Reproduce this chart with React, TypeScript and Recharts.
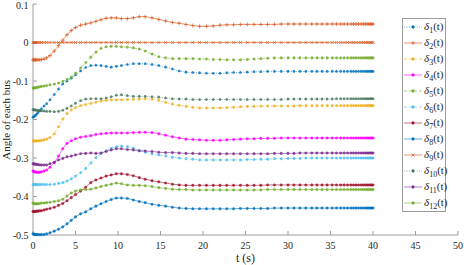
import React from "react"
import { LineChart, Line, XAxis, YAxis, Legend } from "recharts"

// sample times (s)
const time = [
  0, 0.1, 0.2, 0.3, 0.45, 0.6, 0.8, 1.0, 1.3, 1.6, 2.0, 2.5, 3.0, 3.5, 4.0,
  4.5, 5.0, 5.6, 6.2, 6.8, 7.4, 8.0, 8.6, 9.2, 9.8, 10.4, 11.1, 11.8, 12.5, 13.2,
  14.0, 14.8, 15.6, 16.4, 17.2, 18.0, 18.8, 19.6, 20.4, 21.2, 22.0, 22.8, 23.6, 24.4, 25.2,
  26.0, 26.8, 27.6, 28.4, 29.2, 30.0, 30.7, 31.4, 32.1, 32.8, 33.4, 34.0, 34.6, 35.2, 35.7,
  36.2, 36.6, 37.0, 37.4, 37.7, 38.0, 38.3, 38.6, 38.85, 39.1, 39.3, 39.5, 39.7, 39.85, 40.0,
]

const delta1 = [
  -0.194, -0.193, -0.191, -0.189, -0.186, -0.182, -0.177, -0.172, -0.165, -0.159, -0.149, -0.135, -0.121, -0.108, -0.1,
  -0.093, -0.084, -0.074, -0.065, -0.06, -0.059, -0.06, -0.062, -0.064, -0.062, -0.06, -0.057, -0.055, -0.055, -0.055,
  -0.057, -0.06, -0.064, -0.069, -0.074, -0.077, -0.078, -0.079, -0.08, -0.08, -0.08, -0.079, -0.078, -0.078, -0.077,
  -0.076, -0.076, -0.075, -0.075, -0.075, -0.075, -0.075, -0.075, -0.075, -0.075, -0.075, -0.075, -0.075, -0.075, -0.075,
  -0.075, -0.075, -0.075, -0.075, -0.075, -0.075, -0.075, -0.075, -0.075, -0.075, -0.075, -0.075, -0.075, -0.075, -0.075,
]
const delta2 = [
  -0.045, -0.045, -0.045, -0.045, -0.045, -0.045, -0.045, -0.044, -0.043, -0.04, -0.034, -0.022, -0.008, 0.006, 0.02,
  0.031, 0.039, 0.045, 0.048, 0.051, 0.055, 0.059, 0.063, 0.064, 0.064, 0.062, 0.062, 0.064, 0.067, 0.067,
  0.064, 0.06, 0.056, 0.052, 0.05, 0.047, 0.044, 0.042, 0.042, 0.043, 0.045, 0.046, 0.046, 0.047, 0.047,
  0.047, 0.047, 0.047, 0.047, 0.048, 0.048, 0.048, 0.048, 0.048, 0.048, 0.048, 0.048, 0.048, 0.048, 0.048,
  0.048, 0.048, 0.048, 0.048, 0.048, 0.048, 0.048, 0.048, 0.048, 0.048, 0.048, 0.048, 0.048, 0.048, 0.048,
]
const delta3 = [
  -0.256, -0.256, -0.256, -0.256, -0.256, -0.255, -0.255, -0.254, -0.253, -0.251, -0.247, -0.237, -0.219, -0.199, -0.184,
  -0.175, -0.169, -0.164, -0.161, -0.158, -0.155, -0.152, -0.15, -0.149, -0.149, -0.149, -0.148, -0.148, -0.147, -0.146,
  -0.147, -0.15, -0.156, -0.16, -0.163, -0.166, -0.168, -0.17, -0.17, -0.17, -0.17, -0.169, -0.168, -0.167, -0.166,
  -0.166, -0.165, -0.165, -0.165, -0.165, -0.165, -0.165, -0.164, -0.164, -0.164, -0.164, -0.164, -0.164, -0.164, -0.164,
  -0.164, -0.164, -0.164, -0.164, -0.164, -0.164, -0.164, -0.164, -0.164, -0.164, -0.164, -0.164, -0.164, -0.164, -0.164,
]
const delta4 = [
  -0.334, -0.335, -0.336, -0.337, -0.337, -0.337, -0.337, -0.336, -0.334, -0.331, -0.324, -0.312, -0.295, -0.276, -0.262,
  -0.255, -0.25, -0.246, -0.244, -0.242, -0.239, -0.237, -0.236, -0.235, -0.235, -0.235, -0.235, -0.234, -0.233, -0.233,
  -0.234, -0.237, -0.241, -0.245, -0.248, -0.251, -0.252, -0.253, -0.254, -0.254, -0.254, -0.253, -0.252, -0.251, -0.25,
  -0.25, -0.249, -0.249, -0.249, -0.248, -0.248, -0.248, -0.248, -0.248, -0.248, -0.248, -0.248, -0.248, -0.248, -0.248,
  -0.248, -0.248, -0.248, -0.248, -0.248, -0.248, -0.248, -0.248, -0.248, -0.248, -0.248, -0.248, -0.248, -0.248, -0.248,
]
const delta5 = [
  -0.118, -0.118, -0.118, -0.117, -0.117, -0.116, -0.115, -0.114, -0.113, -0.112, -0.11, -0.108, -0.105, -0.101, -0.096,
  -0.09, -0.08, -0.066, -0.052, -0.038, -0.025, -0.015, -0.011, -0.01, -0.01, -0.011, -0.012, -0.014, -0.017, -0.022,
  -0.03, -0.037, -0.04, -0.042, -0.042, -0.042, -0.042, -0.043, -0.043, -0.044, -0.044, -0.045, -0.045, -0.045, -0.044,
  -0.043, -0.042, -0.041, -0.04, -0.04, -0.04, -0.04, -0.04, -0.04, -0.04, -0.04, -0.04, -0.04, -0.04, -0.04,
  -0.04, -0.04, -0.04, -0.04, -0.04, -0.04, -0.04, -0.04, -0.04, -0.04, -0.04, -0.04, -0.04, -0.04, -0.04,
]
const delta6 = [
  -0.369, -0.369, -0.369, -0.369, -0.369, -0.369, -0.369, -0.369, -0.369, -0.369, -0.369, -0.368, -0.366, -0.364, -0.36,
  -0.354, -0.347, -0.338, -0.327, -0.313, -0.299, -0.288, -0.281, -0.275, -0.271, -0.269, -0.27, -0.275, -0.281, -0.285,
  -0.289, -0.292, -0.295, -0.298, -0.3, -0.302, -0.303, -0.305, -0.305, -0.305, -0.305, -0.305, -0.305, -0.305, -0.304,
  -0.304, -0.303, -0.303, -0.302, -0.302, -0.301, -0.301, -0.301, -0.3, -0.3, -0.3, -0.3, -0.3, -0.3, -0.3,
  -0.3, -0.3, -0.3, -0.3, -0.3, -0.3, -0.3, -0.3, -0.3, -0.3, -0.3, -0.3, -0.3, -0.3, -0.3,
]
const delta7 = [
  -0.439, -0.439, -0.439, -0.439, -0.438, -0.438, -0.437, -0.437, -0.435, -0.433, -0.431, -0.428, -0.423, -0.418, -0.411,
  -0.403, -0.395, -0.386, -0.376, -0.364, -0.357, -0.352, -0.347, -0.344, -0.341, -0.341, -0.343, -0.346, -0.351, -0.355,
  -0.359, -0.362, -0.365, -0.368, -0.37, -0.371, -0.371, -0.371, -0.371, -0.371, -0.371, -0.371, -0.371, -0.371, -0.371,
  -0.371, -0.371, -0.37, -0.37, -0.37, -0.37, -0.37, -0.37, -0.37, -0.37, -0.37, -0.37, -0.37, -0.37, -0.37,
  -0.37, -0.37, -0.37, -0.37, -0.37, -0.37, -0.37, -0.37, -0.37, -0.37, -0.37, -0.37, -0.37, -0.37, -0.37,
]
const delta8 = [
  -0.497, -0.498, -0.498, -0.499, -0.499, -0.499, -0.499, -0.499, -0.499, -0.497, -0.494, -0.49, -0.485, -0.479, -0.471,
  -0.462, -0.453, -0.445, -0.44, -0.432, -0.425, -0.419, -0.413, -0.408, -0.404, -0.404, -0.405, -0.409, -0.413, -0.416,
  -0.42, -0.423, -0.425, -0.428, -0.43, -0.431, -0.432, -0.432, -0.432, -0.432, -0.432, -0.432, -0.432, -0.431, -0.431,
  -0.431, -0.431, -0.431, -0.43, -0.43, -0.43, -0.43, -0.43, -0.43, -0.43, -0.43, -0.43, -0.43, -0.43, -0.43,
  -0.43, -0.43, -0.43, -0.43, -0.43, -0.43, -0.43, -0.43, -0.43, -0.43, -0.43, -0.43, -0.43, -0.43, -0.43,
]
const delta9 = [
  0, 0, 0, 0, 0, 0, 0, 0, 0, 0, 0, 0, 0, 0, 0,
  0, 0, 0, 0, 0, 0, 0, 0, 0, 0, 0, 0, 0, 0, 0,
  0, 0, 0, 0, 0, 0, 0, 0, 0, 0, 0, 0, 0, 0, 0,
  0, 0, 0, 0, 0, 0, 0, 0, 0, 0, 0, 0, 0, 0, 0,
  0, 0, 0, 0, 0, 0, 0, 0, 0, 0, 0, 0, 0, 0, 0,
]
const delta10 = [
  -0.174, -0.175, -0.175, -0.176, -0.176, -0.177, -0.177, -0.178, -0.178, -0.179, -0.179, -0.18, -0.179, -0.176, -0.171,
  -0.165, -0.158, -0.151, -0.147, -0.146, -0.146, -0.146, -0.144, -0.141, -0.137, -0.136, -0.138, -0.14, -0.14, -0.14,
  -0.141, -0.142, -0.144, -0.146, -0.147, -0.147, -0.148, -0.148, -0.148, -0.148, -0.148, -0.148, -0.148, -0.148, -0.148,
  -0.148, -0.148, -0.148, -0.148, -0.148, -0.147, -0.147, -0.147, -0.147, -0.147, -0.147, -0.147, -0.147, -0.147, -0.146,
  -0.146, -0.146, -0.146, -0.146, -0.146, -0.146, -0.146, -0.146, -0.146, -0.146, -0.146, -0.146, -0.146, -0.146, -0.146,
]
const delta11 = [
  -0.315, -0.315, -0.316, -0.316, -0.317, -0.317, -0.318, -0.318, -0.318, -0.318, -0.315, -0.311, -0.305, -0.301, -0.297,
  -0.295, -0.292, -0.289, -0.288, -0.287, -0.288, -0.287, -0.283, -0.279, -0.276, -0.276, -0.278, -0.279, -0.281, -0.282,
  -0.283, -0.285, -0.286, -0.286, -0.287, -0.288, -0.288, -0.289, -0.289, -0.289, -0.289, -0.289, -0.289, -0.289, -0.289,
  -0.289, -0.289, -0.289, -0.288, -0.288, -0.288, -0.288, -0.287, -0.287, -0.287, -0.287, -0.287, -0.287, -0.287, -0.287,
  -0.287, -0.287, -0.287, -0.287, -0.287, -0.287, -0.287, -0.287, -0.287, -0.287, -0.287, -0.287, -0.287, -0.287, -0.287,
]
const delta12 = [
  -0.417, -0.418, -0.419, -0.419, -0.419, -0.419, -0.418, -0.417, -0.417, -0.416, -0.415, -0.413, -0.411, -0.407, -0.399,
  -0.391, -0.386, -0.383, -0.382, -0.381, -0.378, -0.374, -0.371, -0.368, -0.365, -0.367, -0.37, -0.371, -0.371, -0.372,
  -0.374, -0.377, -0.379, -0.381, -0.382, -0.382, -0.383, -0.383, -0.383, -0.383, -0.383, -0.383, -0.383, -0.383, -0.383,
  -0.383, -0.383, -0.382, -0.382, -0.382, -0.382, -0.382, -0.382, -0.382, -0.382, -0.382, -0.382, -0.382, -0.382, -0.382,
  -0.382, -0.382, -0.382, -0.382, -0.382, -0.382, -0.382, -0.382, -0.382, -0.382, -0.382, -0.382, -0.382, -0.382, -0.382,
]

const xTicks = [0, 5, 10, 15, 20, 25, 30, 35, 40, 45, 50]
const yTicks = [-0.5, -0.4, -0.3, -0.2, -0.1, 0, 0.1]

const busNumbers = ["1", "2", "3", "4", "5", "6", "7", "8", "9", "10", "11", "12"]
const colors = [
  "#0072BD", "#D95319", "#EDB120", "#FF00FF", "#77AC30", "#4DBEEE",
  "#A2142F", "#0072BD", "#D95319", "#46775A", "#7E2F8E", "#77AC30",
]
const dashes = ["1 1.5", undefined, "3 2", undefined, "3 2", "3 2", undefined, undefined, undefined, "1 1.5", undefined, undefined]
const markers = ["dot", "plus", "dot", "dot", "dot", "dot", "dot", "dot", "cross", "dot", "dot", "dot"]

const series = [delta1, delta2, delta3, delta4, delta5, delta6, delta7, delta8, delta9, delta10, delta11, delta12]

const rows = time.map((t, i) => {
  const row: any = { t }
  series.forEach((s, k) => {
    row[`d${k + 1}`] = s[i]
  })
  return row
})

const axisGrey = "#9c9c9c"
const textColor = "#262626"
const serif = "Liberation Serif"

const Marker = ({ kind, cx, cy, color }: { kind: string; cx: number; cy: number; color: string }) => {
  if (kind === "plus")
    return <path d={`M${cx - 2},${cy}h4M${cx},${cy - 2}v4`} stroke={color} strokeWidth={0.7} fill="none" />
  if (kind === "cross")
    return <path d={`M${cx - 1.5},${cy - 1.5}l3,3M${cx - 1.5},${cy + 1.5}l3,-3`} stroke={color} strokeWidth={0.7} fill="none" />
  return <circle cx={cx} cy={cy} r={1.4} fill={color} stroke={color} strokeWidth={0.3} />
}

const renderDot = (i: number) => {
  if (markers[i] === "dot") return { r: 1.3, fill: colors[i], stroke: colors[i], strokeWidth: 0.3, fillOpacity: 0.85 }
  return (p: any) => <Marker key={`m${i}-${p.index}`} kind={markers[i]} cx={p.cx} cy={p.cy} color={colors[i]} />
}

const LegendBox = () => (
  <div
    style={{
      width: 44,
      height: 194,
      border: `1px solid ${axisGrey}`,
      background: "#fff",
      boxSizing: "border-box",
      fontFamily: serif,
      fontSize: 11,
      color: textColor,
    }}
  >
    {busNumbers.map((n, i) => (
      <div key={n} style={{ height: 16, display: "flex", alignItems: "center", whiteSpace: "nowrap" }}>
        <svg width={20} height={10} style={{ flex: "none" }}>
          <line x1={1} x2={19} y1={5} y2={5} stroke={colors[i]} strokeWidth={0.6} strokeDasharray={dashes[i]} />
          <Marker kind={markers[i]} cx={10} cy={5} color={colors[i]} />
        </svg>
        <span style={{ marginLeft: 1, lineHeight: "11px" }}>
          <i>δ</i>
          <span style={{ fontSize: 8, position: "relative", top: 3 }}>{n}</span>(t)
        </span>
      </div>
    ))}
  </div>
)

const tickStyle = { fill: textColor, fontSize: 10, fontFamily: serif }

export default function App() {
  return (
    <div style={{ position: "absolute", left: 0, top: 0, width: 464, height: 265, background: "#fff" }}>
      <LineChart width={464} height={265} data={rows} margin={{ top: 4, right: 6, bottom: 0, left: 0 }}>
        <XAxis
          dataKey="t"
          type="number"
          domain={[0, 50]}
          ticks={xTicks}
          height={30}
          tickSize={-4}
          tickMargin={11}
          tick={tickStyle}
          axisLine={{ stroke: axisGrey }}
          tickLine={{ stroke: axisGrey }}
          label={{ value: "t (s)", position: "insideBottom", offset: 3, fill: textColor, fontSize: 12, fontFamily: serif }}
        />
        <XAxis
          xAxisId="top"
          orientation="top"
          dataKey="t"
          type="number"
          domain={[0, 50]}
          ticks={xTicks}
          height={0}
          tickSize={-4}
          tickFormatter={() => ""}
          axisLine={{ stroke: axisGrey }}
          tickLine={{ stroke: axisGrey }}
        />
        <YAxis
          type="number"
          domain={[-0.5, 0.1]}
          ticks={yTicks}
          width={33}
          tickSize={-4}
          tickMargin={8.5}
          tick={tickStyle}
          tickFormatter={(v: number) => (v === 0 ? "0" : v.toFixed(1))}
          axisLine={{ stroke: axisGrey }}
          tickLine={{ stroke: axisGrey }}
        />
        <YAxis
          yAxisId="right"
          orientation="right"
          type="number"
          domain={[-0.5, 0.1]}
          ticks={yTicks}
          width={0}
          tickSize={-4}
          tickFormatter={() => ""}
          axisLine={{ stroke: axisGrey }}
          tickLine={{ stroke: axisGrey }}
        />
        <Legend
          layout="vertical"
          align="center"
          verticalAlign="middle"
          content={() => <LegendBox />}
          wrapperStyle={{ left: 402, top: 18, width: 44 }}
        />
        {series.map((_, i) => (
          <Line
            key={i}
            type="linear"
            dataKey={`d${i + 1}`}
            stroke={colors[i]}
            strokeWidth={0.6}
            strokeDasharray={dashes[i]}
            dot={renderDot(i)}
            activeDot={false}
            legendType="none"
            isAnimationActive={false}
          />
        ))}
      </LineChart>
      <div
        style={{
          position: "absolute",
          left: 0,
          top: 4,
          width: 12.4,
          height: 231,
          display: "flex",
          alignItems: "center",
          justifyContent: "center",
          writingMode: "sideways-lr",
          fontFamily: serif,
          fontSize: 11,
          lineHeight: "12.4px",
          color: textColor,
          whiteSpace: "nowrap",
        }}
      >
        Angle of each bus
      </div>
    </div>
  )
}
